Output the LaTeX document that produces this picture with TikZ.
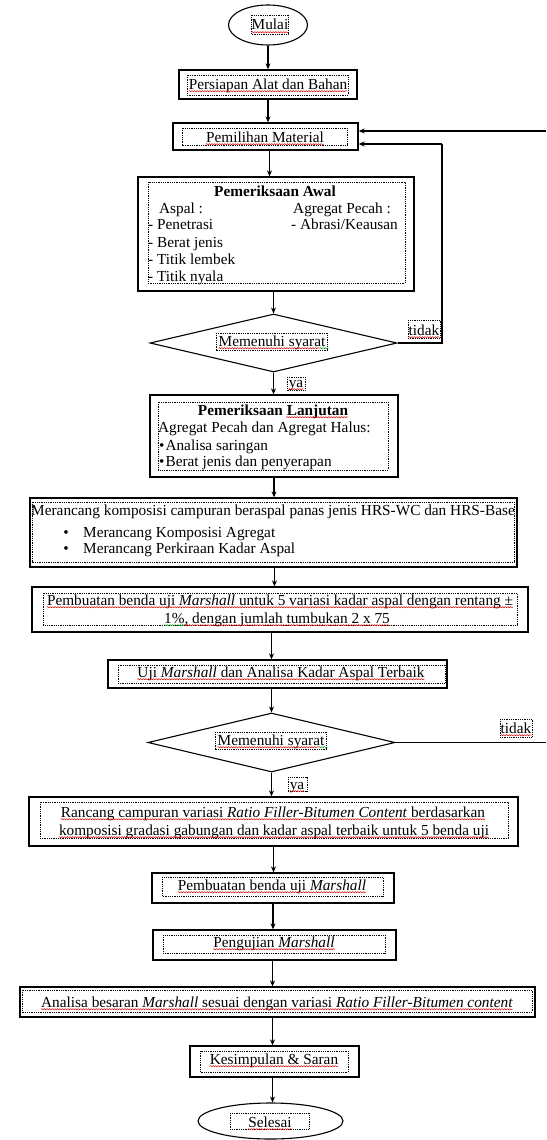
\documentclass[tikz,border=0pt]{standalone}
\usepackage{fontspec}
\setmainfont{Liberation Serif}
\usetikzlibrary{shapes.geometric,arrows.meta,decorations.pathmorphing,calc}
\begin{document}
\begin{tikzpicture}[x=1pt,y=-1pt,
  every node/.style={font=\fontsize{15.3}{17.6}\selectfont},
  box/.style={draw, line width=1.3pt, rectangle, inner sep=0pt},
  ell/.style={draw, line width=1.1pt, ellipse, inner sep=0pt},
  dia/.style={draw, line width=1.1pt, diamond, aspect=4.2, inner sep=0pt},
  inbox/.style={line width=0.7pt, dash pattern=on 0.9pt off 0.9pt},
  txt/.style={anchor=base, inner sep=0pt},
  txtw/.style={anchor=base west, inner sep=0pt},
  arr/.style={line width=1.1pt, -{Stealth[length=6pt,width=5pt]}},
  ln/.style={line width=1.1pt},
  sp/.style={draw=red!85!black, line width=0.5pt, decorate, decoration={snake, amplitude=0.6pt, segment length=2.6pt}},
  spg/.style={draw=green!60!black, line width=0.5pt, decorate, decoration={snake, amplitude=0.6pt, segment length=2.6pt}}
]
\useasboundingbox (0,0) rectangle (546,1140);

% ---------- Mulai
\node[ell, minimum width=79, minimum height=40] (mulai) at (268,25) {};
\draw[inbox] (251,15) rectangle (288,34);
\node[txt] (tmulai) at (270,30) {Mulai};

% ---------- Persiapan
\node[box, minimum width=178, minimum height=29] (persiapan) at (268,84.5) {};
\draw[inbox] (187,75) rectangle (348,95);
\node[txt] (tpersiapan) at (268,89) {Persiapan Alat dan Bahan};

% ---------- Pemilihan Material
\node[box, minimum width=185, minimum height=27] (pemilihan) at (265.5,136.5) {};
\draw[inbox] (182,128) rectangle (347,145);
\node[txt] (tpemilihan) at (265,142) {Pemilihan Material};

% ---------- Pemeriksaan Awal
\node[box, minimum width=276, minimum height=114] (awal) at (276,234) {};
\draw[inbox] (148,182) rectangle (405,283);
\node[txt] (tawal) at (275,196) {\bfseries Pemeriksaan Awal};
\node[txtw] (a1) at (159,213) {Aspal :};
\node[txtw] (a2) at (148,229) {- Penetrasi};
\node[txtw] (a3) at (148,247) {- Berat jenis};
\node[txtw] (a4) at (148,264) {- Titik lembek};
\node[txtw] (a5) at (148,281) {- Titik nyala};
\node[txtw] (b1) at (293,213) {Agregat Pecah :};
\node[txtw] (b2) at (291,229) {- Abrasi/Keausan};

% ---------- Diamond 1
\node[dia, minimum width=247, minimum height=58] (d1) at (273.5,343) {};
\node[txt] (td1) at (272,346) {Memenuhi syarat};
\draw[inbox] ($(td1.base west)+(-2,-13)$) rectangle ($(td1.base east)+(2,4)$);
\node[txt] (tidak1) at (424,335) {tidak};
\draw[inbox] (408,320) rectangle (440,338);
\node[txt] (ya1) at (296,387) {ya};
\draw[inbox] (287,377) rectangle (305,390);

% ---------- Pemeriksaan Lanjutan
\node[box, minimum width=248, minimum height=82] (lanjut) at (274,436) {};
\draw[inbox] (158,402) rectangle (388,470);
\node[txt] (tlanjut) at (273,415) {\bfseries Pemeriksaan Lanjutan};
\node[txtw] (l1) at (158,432) {Agregat Pecah dan Agregat Halus:};
\node[txtw] (l2) at (158,450) {\kern1pt•\kern1pt Analisa saringan};
\node[txtw] (l3) at (158,466) {\kern1pt•\kern1pt Berat jenis dan penyerapan};

% ---------- Merancang
\node[box, minimum width=487, minimum height=69] (merancang) at (273.5,532.5) {};
\draw[inbox] (32,502) rectangle (514,562);
\node[txt] (m1) at (273,515) {Merancang komposisi campuran beraspal panas jenis HRS-WC dan HRS-Base};
\node[txt] (mb1) at (66,537) {•};
\node[txtw] (m2) at (83,537) {Merancang Komposisi Agregat};
\node[txt] (mb2) at (66,553) {•};
\node[txtw] (m3) at (83,553) {Merancang Perkiraan Kadar Aspal};

% ---------- Pembuatan 1
\node[box, minimum width=496, minimum height=45] (buat1) at (280,609.5) {};
\draw[inbox] (43,593) rectangle (517,625);
\node[txt] (p1) at (280,605) {Pembuatan benda uji \textit{Marshall} untuk 5 variasi kadar aspal dengan rentang ±};
\node[txt] (p2) at (277,623) {1\%, dengan jumlah tumbukan 2 x 75};

% ---------- Uji Marshall
\node[box, minimum width=339, minimum height=28] (uji) at (277.5,674) {};
\draw[inbox] (118,665) rectangle (445,683);
\node[txt] (tuji) at (281,677) {Uji \textit{Marshall} dan Analisa Kadar Aspal Terbaik};

% ---------- Diamond 2
\node[dia, minimum width=247, minimum height=59] (d2) at (271.5,742.5) {};
\node[txt] (td2) at (271,745) {Memenuhi syarat};
\draw[inbox] ($(td2.base west)+(-2,-13)$) rectangle ($(td2.base east)+(2,4)$);
\node[txt] (tidak2) at (516,733) {tidak};
\draw[inbox] (500,719) rectangle (532,737);
\node[txt] (ya2) at (297,789) {ya};
\draw[inbox] (288,777) rectangle (307,791);

% ---------- Rancang
\node[box, minimum width=489, minimum height=49] (rancang) at (273.5,821.5) {};
\draw[inbox] (40,802) rectangle (508,838);
\node[txt] (r1) at (273,817) {Rancang campuran variasi \textit{Ratio Filler-Bitumen Content} berdasarkan};
\node[txt] (r2) at (274,835) {komposisi gradasi gabungan dan kadar aspal terbaik untuk 5 benda uji};

% ---------- Pembuatan 2
\node[box, minimum width=242, minimum height=30] (buat2) at (273,888) {};
\draw[inbox] (162,877) rectangle (383,896);
\node[txt] (tbuat2) at (272,890) {Pembuatan benda uji \textit{Marshall}};

% ---------- Pengujian
\node[box, minimum width=243, minimum height=30] (uji2) at (274.5,945) {};
\draw[inbox] (163,935) rectangle (385,953);
\node[txt] (tuji2) at (274,947) {Pengujian \textit{Marshall}};

% ---------- Analisa
\node[box, minimum width=515, minimum height=30] (analisa) at (277.5,1002) {};
\draw[inbox] (22,990) rectangle (532,1012);
\node[txt] (tanalisa) at (277,1007) {Analisa besaran \textit{Marshall} sesuai dengan variasi \textit{Ratio Filler-Bitumen content}};

% ---------- Kesimpulan
\node[box, minimum width=169, minimum height=31] (kesimpulan) at (274.5,1061.5) {};
\draw[inbox] (200,1051) rectangle (348,1072);
\node[txt] (tkes) at (274,1064) {Kesimpulan \& Saran};

% ---------- Selesai
\node[ell, minimum width=145, minimum height=36] (selesai) at (270.5,1121) {};
\draw[inbox] (230,1113) rectangle (309,1129);
\node[txt] (tsel) at (270,1127) {Selesai};

% ---------- connectors
\draw[arr] (mulai.south) -- (mulai.south |- persiapan.north);
\draw[arr] (persiapan.south) -- (persiapan.south |- pemilihan.north);
\draw[arr] ([xshift=4pt]pemilihan.south) -- ([xshift=4pt]pemilihan.south |- awal.north);
\draw[arr] (d1.north |- awal.south) -- (d1.north);
\draw[arr] (d1.south) -- (d1.south |- lanjut.north);
\draw[arr] (lanjut.south) -- (lanjut.south |- merancang.north);
\draw[arr] ([xshift=1pt]merancang.south) -- ([xshift=1pt]merancang.south |- buat1.north);
\draw[arr] (d2.north |- buat1.south) -- (d2.north |- uji.north);
\draw[arr] (d2.north |- uji.south) -- (d2.north);
\draw[arr] (d2.south) -- (d2.south |- rancang.north);
\draw[arr] (rancang.south) -- (rancang.south |- buat2.north);
\draw[arr] (buat2.south) -- (buat2.south |- uji2.north);
\draw[arr] ([xshift=-2pt]uji2.south) -- ([xshift=-2pt]uji2.south |- analisa.north);
\draw[arr] ([xshift=-5pt]analisa.south) -- ([xshift=-5pt]analisa.south |- kesimpulan.north);
\draw[arr] ([xshift=-2pt]kesimpulan.south) -- ([xshift=-2pt]kesimpulan.south |- selesai.north);

% feedback loops
\coordinate (fb1) at (442,144);
\coordinate (fb2) at (546,131);
\draw[ln] (d1.east) -- (d1.east -| fb1) -- (fb1);
\draw[arr] (fb1) -- (fb1 -| pemilihan.east);
\draw[ln] (d2.east) -- (d2.east -| fb2);
\draw[arr] (fb2) -- (fb2 -| pemilihan.east);

% ---------- spell-check underlines
\foreach \n in {tmulai,tpersiapan,tpemilihan,tidak1,ya1,tidak2,ya2,p1,tuji,r1,r2,tbuat2,tuji2,tanalisa,tkes,tsel}
  \draw[sp] ([yshift=-2.2pt]\n.base west) -- ([yshift=-2.2pt]\n.base east);
\draw[sp] ([yshift=-2.2pt]td1.base west) -- ([yshift=-2.2pt,xshift=-6pt]td1.base east);
\draw[spg] ([yshift=-2.2pt,xshift=-6pt]td1.base east) -- ([yshift=-2.2pt,xshift=3pt]td1.base east);
\draw[sp] ([yshift=-2.2pt]td2.base west) -- ([yshift=-2.2pt,xshift=-6pt]td2.base east);
\draw[spg] ([yshift=-2.2pt,xshift=-6pt]td2.base east) -- ([yshift=-2.2pt,xshift=3pt]td2.base east);
\draw[sp] ([yshift=-2.2pt,xshift=-62pt]tlanjut.base east) -- ([yshift=-2.2pt]tlanjut.base east);
\draw[spg] ([yshift=-2.2pt]p2.base west) -- ([yshift=-2.2pt,xshift=20pt]p2.base west);
\draw[sp] ([yshift=-2.2pt,xshift=20pt]p2.base west) -- ([yshift=-2.2pt]p2.base east);
\end{tikzpicture}
\end{document}
